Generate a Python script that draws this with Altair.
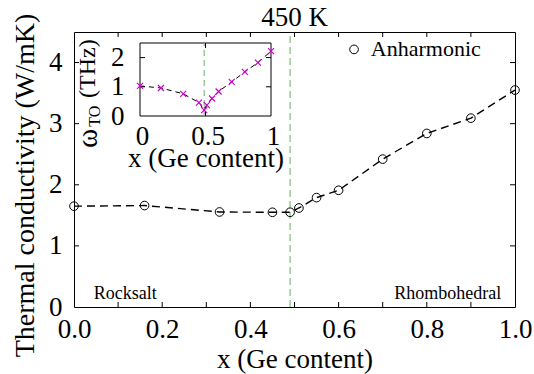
import altair as alt
import pandas as pd

# ---------------- data ----------------
ge_content = [0.0, 0.16, 0.33, 0.45, 0.49, 0.51, 0.55, 0.60, 0.70, 0.80, 0.90, 1.00]
kappa_anh = [1.65, 1.66, 1.555, 1.55, 1.55, 1.62, 1.79, 1.91, 2.42, 2.84, 3.09, 3.55]
omega_to = [1.03, 0.96, 0.76, 0.46, 0.20, 0.37, 0.60, 0.84, 1.17, 1.51, 1.83, 2.22]
transition_x = [0.49]

main_x_ticks = [0.0, 0.2, 0.4, 0.6, 0.8, 1.0]
main_x_minor = [0.1, 0.2, 0.3, 0.4, 0.5, 0.6, 0.7, 0.8, 0.9]
main_y_ticks = [0, 1, 2, 3, 4]
main_y_minor = [1, 2, 3, 4]
inset_x_ticks = [0, 0.5, 1]
inset_x_minor = [0.5]
inset_y_ticks = [0, 1, 2]
inset_y_minor = [1, 2]

main_x_domain = [0, 1]
main_y_domain = [0, 4.5]
inset_x_domain = [0, 1]
inset_y_domain = [0, 2.5]

title_text = ["450 K"]
title_pos = [0.5, 4.598]
x_title = "x (Ge content)"
y_title = "Thermal conductivity (W/mK)"
legend_label = ["Anharmonic"]
legend_pt = [0.635, 4.215]
legend_txt = [0.673, 4.215]
phase_names = ["Rocksalt", "Rhombohedral"]
phase_x = [0.045, 0.969]
phase_y = [0.13, 0.13]
# inset y-title pieces (omega, subscript TO, unit), anchored in main-panel data coordinates
inset_ytitle_text = ["ω", "TO", "(THz)"]
inset_ytitle_x = [0.0515, 0.059, 0.0465]
inset_ytitle_y = [2.60, 2.95, 3.42]

# ---------------- layout / style ----------------
W, H = 441, 275
FONT = "Liberation Serif"
GREEN = "#7fbf7f"
MAGENTA = "#cc00cc"
TICK = 5
INSET_X_RANGE = [66, 197]
INSET_Y_RANGE = [84, 11]


def xs():
    return alt.Scale(domain=main_x_domain, nice=False, zero=False)


def ys():
    return alt.Scale(domain=main_y_domain, nice=False, zero=False)


def ixs():
    return alt.Scale(domain=inset_x_domain, range=INSET_X_RANGE, nice=False, zero=False)


def iys():
    return alt.Scale(domain=inset_y_domain, range=INSET_Y_RANGE, nice=False, zero=False)


df = pd.DataFrame({"x": ge_content, "k": kappa_anh, "w": omega_to})

# ---------------- main panel ----------------
x_axis = alt.Axis(values=main_x_ticks, format=".1f", title=x_title, orient="bottom",
                  labelFontSize=27, titleFontSize=27, labelPadding=30, labelBaseline="alphabetic",
                  titleBaseline="alphabetic", titleY=60, ticks=False, domain=False,
                  grid=False, labelFont=FONT, titleFont=FONT, labelColor="black",
                  titleColor="black", titleFontWeight="normal", labelFlush=False)
y_axis = alt.Axis(values=main_y_ticks, format="d", title=y_title, orient="left",
                  labelFontSize=27, titleFontSize=28, labelPadding=12, ticks=False,
                  domain=False, grid=False, titleAngle=270, titleBaseline="alphabetic",
                  titleX=-41, titleY=153, labelFont=FONT, titleFont=FONT, labelColor="black",
                  titleColor="black", titleFontWeight="normal", labelFlush=False)

line_main = alt.Chart(df).mark_line(color="black", strokeWidth=1.4, strokeDash=[8, 5]).encode(
    x=alt.X("x:Q", scale=xs(), axis=x_axis),
    y=alt.Y("k:Q", scale=ys(), axis=y_axis),
)
pts_main = alt.Chart(df).mark_point(shape="circle", filled=False, color="black", size=75,
                                     strokeWidth=1, opacity=1).encode(
    x=alt.X("x:Q", scale=xs(), axis=None),
    y=alt.Y("k:Q", scale=ys(), axis=None),
)

green_main = alt.Chart(pd.DataFrame({"x": transition_x, "y0": [main_y_domain[0]], "y1": [main_y_domain[1]]})).mark_rule(
    color=GREEN, strokeWidth=1.2, strokeDash=[7, 4]).encode(
    x=alt.X("x:Q", scale=xs(), axis=None),
    y=alt.Y("y0:Q", scale=ys(), axis=None), y2="y1:Q")

dy = TICK / H * (main_y_domain[1] - main_y_domain[0])
dx = TICK / W * (main_x_domain[1] - main_x_domain[0])
vt = pd.DataFrame({
    "x": main_x_minor * 2,
    "y0": [main_y_domain[0]] * len(main_x_minor) + [main_y_domain[1]] * len(main_x_minor),
    "y1": [main_y_domain[0] + dy] * len(main_x_minor) + [main_y_domain[1] - dy] * len(main_x_minor),
})
ht = pd.DataFrame({
    "y": main_y_minor * 2,
    "x0": [main_x_domain[0]] * len(main_y_minor) + [main_x_domain[1]] * len(main_y_minor),
    "x1": [main_x_domain[0] + dx] * len(main_y_minor) + [main_x_domain[1] - dx] * len(main_y_minor),
})
vticks = alt.Chart(vt).mark_rule(color="black", strokeWidth=1).encode(
    x=alt.X("x:Q", scale=xs(), axis=None), y=alt.Y("y0:Q", scale=ys(), axis=None), y2="y1:Q")
hticks = alt.Chart(ht).mark_rule(color="black", strokeWidth=1).encode(
    y=alt.Y("y:Q", scale=ys(), axis=None), x=alt.X("x0:Q", scale=xs(), axis=None), x2="x1:Q")

title_mark = alt.Chart(pd.DataFrame({"x": [title_pos[0]], "y": [title_pos[1]], "t": title_text})).mark_text(
    align="center", baseline="alphabetic", font=FONT, fontSize=27, color="black").encode(
    x=alt.X("x:Q", scale=xs(), axis=None), y=alt.Y("y:Q", scale=ys(), axis=None), text="t:N")

leg_pt = alt.Chart(pd.DataFrame({"x": [legend_pt[0]], "y": [legend_pt[1]]})).mark_point(
    shape="circle", filled=False, color="black", size=75, strokeWidth=1, opacity=1).encode(
    x=alt.X("x:Q", scale=xs(), axis=None), y=alt.Y("y:Q", scale=ys(), axis=None))
leg_txt = alt.Chart(pd.DataFrame({"x": [legend_txt[0]], "y": [legend_txt[1]], "t": legend_label})).mark_text(
    align="left", baseline="middle", font=FONT, fontSize=22, color="black").encode(
    x=alt.X("x:Q", scale=xs(), axis=None), y=alt.Y("y:Q", scale=ys(), axis=None), text="t:N")

phase_df = pd.DataFrame({"x": phase_x, "y": phase_y, "t": phase_names})
phase_left = alt.Chart(phase_df.iloc[[0]]).mark_text(
    align="left", baseline="alphabetic", font=FONT, fontSize=18, color="black").encode(
    x=alt.X("x:Q", scale=xs(), axis=None), y=alt.Y("y:Q", scale=ys(), axis=None), text="t:N")
phase_right = alt.Chart(phase_df.iloc[[1]]).mark_text(
    align="right", baseline="alphabetic", font=FONT, fontSize=18, color="black").encode(
    x=alt.X("x:Q", scale=xs(), axis=None), y=alt.Y("y:Q", scale=ys(), axis=None), text="t:N")

# ---------------- inset ----------------
ix_axis = alt.Axis(values=inset_x_ticks, format="~g", title=x_title, orient="bottom",
                   offset=-(H - INSET_Y_RANGE[0]), labelFontSize=27, titleFontSize=27,
                   labelPadding=28, labelBaseline="alphabetic", titleBaseline="alphabetic",
                   titleY=50, ticks=False, domain=False, grid=False, labelFont=FONT,
                   titleFont=FONT, labelColor="black", titleColor="black",
                   titleFontWeight="normal", labelFlush=False, labelOffset=2)
iy_axis = alt.Axis(values=inset_y_ticks, format="d", title="", orient="left",
                   offset=-INSET_X_RANGE[0], labelFontSize=27, labelPadding=16,
                   ticks=False, domain=False, grid=False, labelFont=FONT, labelColor="black",
                   labelFlush=False)

frame = alt.Chart(pd.DataFrame({"x0": [inset_x_domain[0]], "x1": [inset_x_domain[1]],
                                "y0": [inset_y_domain[0]], "y1": [inset_y_domain[1]]})).mark_rect(
    fill="white", stroke="black", strokeWidth=1).encode(
    x=alt.X("x0:Q", scale=ixs(), axis=ix_axis), x2="x1:Q",
    y=alt.Y("y0:Q", scale=iys(), axis=iy_axis), y2="y1:Q")

green_in = alt.Chart(pd.DataFrame({"x": transition_x, "y0": [inset_y_domain[0]], "y1": [inset_y_domain[1]]})).mark_rule(
    color=GREEN, strokeWidth=1.2, strokeDash=[6, 4]).encode(
    x=alt.X("x:Q", scale=ixs(), axis=None), y=alt.Y("y0:Q", scale=iys(), axis=None), y2="y1:Q")

idy = TICK / (INSET_Y_RANGE[0] - INSET_Y_RANGE[1]) * (inset_y_domain[1] - inset_y_domain[0])
idx = TICK / (INSET_X_RANGE[1] - INSET_X_RANGE[0]) * (inset_x_domain[1] - inset_x_domain[0])
ivt = pd.DataFrame({
    "x": inset_x_minor * 2,
    "y0": [inset_y_domain[0]] * len(inset_x_minor) + [inset_y_domain[1]] * len(inset_x_minor),
    "y1": [inset_y_domain[0] + idy] * len(inset_x_minor) + [inset_y_domain[1] - idy] * len(inset_x_minor),
})
iht = pd.DataFrame({
    "y": inset_y_minor * 2,
    "x0": [inset_x_domain[0]] * len(inset_y_minor) + [inset_x_domain[1]] * len(inset_y_minor),
    "x1": [inset_x_domain[0] + idx] * len(inset_y_minor) + [inset_x_domain[1] - idx] * len(inset_y_minor),
})
ivticks = alt.Chart(ivt).mark_rule(color="black", strokeWidth=1).encode(
    x=alt.X("x:Q", scale=ixs(), axis=None), y=alt.Y("y0:Q", scale=iys(), axis=None), y2="y1:Q")
ihticks = alt.Chart(iht).mark_rule(color="black", strokeWidth=1).encode(
    y=alt.Y("y:Q", scale=iys(), axis=None), x=alt.X("x0:Q", scale=ixs(), axis=None), x2="x1:Q")

line_in = alt.Chart(df).mark_line(color="black", strokeWidth=1, strokeDash=[5, 4]).encode(
    x=alt.X("x:Q", scale=ixs(), axis=None), y=alt.Y("w:Q", scale=iys(), axis=None))
pts_in = alt.Chart(df).mark_point(shape="M-1,-1L1,1M-1,1L1,-1", filled=False, color=MAGENTA,
                                   size=36, strokeWidth=1.2, opacity=1).encode(
    x=alt.X("x:Q", scale=ixs(), axis=None), y=alt.Y("w:Q", scale=iys(), axis=None))

# rotated inset y-title: omega with subscript TO, then (THz)
ititle = pd.DataFrame({"x": inset_ytitle_x, "y": inset_ytitle_y, "t": inset_ytitle_text})
ititle_omega = alt.Chart(ititle.iloc[[0]]).mark_text(
    angle=270, align="left", baseline="alphabetic", font=FONT, fontSize=29, color="black").encode(
    x=alt.X("x:Q", scale=xs(), axis=None), y=alt.Y("y:Q", scale=ys(), axis=None), text="t:N")
ititle_sub = alt.Chart(ititle.iloc[[1]]).mark_text(
    angle=270, align="left", baseline="alphabetic", font=FONT, fontSize=16, color="black").encode(
    x=alt.X("x:Q", scale=xs(), axis=None), y=alt.Y("y:Q", scale=ys(), axis=None), text="t:N")
ititle_unit = alt.Chart(ititle.iloc[[2]]).mark_text(
    angle=270, align="left", baseline="alphabetic", font=FONT, fontSize=24, color="black").encode(
    x=alt.X("x:Q", scale=xs(), axis=None), y=alt.Y("y:Q", scale=ys(), axis=None), text="t:N")

layers = [green_main, vticks, hticks, line_main, pts_main, title_mark, leg_pt, leg_txt,
          phase_left, phase_right, frame, green_in, ivticks, ihticks, line_in, pts_in,
          ititle_omega, ititle_sub, ititle_unit]

chart = alt.layer(*layers).resolve_scale(x="independent", y="independent").properties(
    width=W, height=H,
    padding={"left": 74, "top": 32, "right": 19, "bottom": 67},
    autosize=alt.AutoSizeParams(type="none"),
    background="white",
).configure_view(stroke="black", strokeWidth=1)

chart.save("out.html", embed_options={"renderer": "svg", "actions": False})
